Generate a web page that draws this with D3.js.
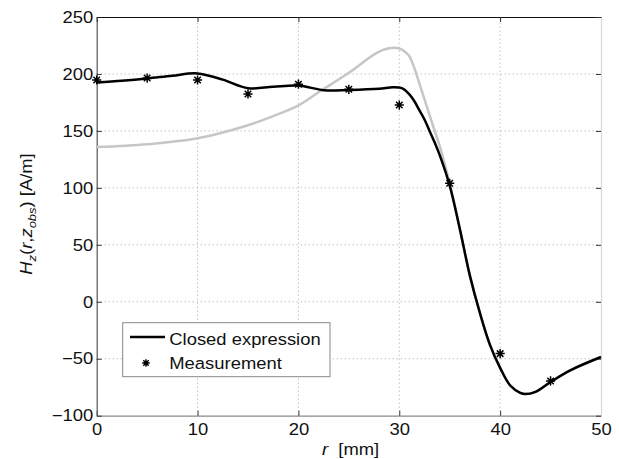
<!DOCTYPE html>
<html>
<head>
<meta charset="utf-8">
<script src="https://cdn.jsdelivr.net/npm/d3@7"></script>
<style>
  body { margin: 0; background: #fff; }
  svg { display: block; font-family: "Liberation Sans", Arial, Helvetica, sans-serif; }
  .grid line { stroke: #a8a8a8; stroke-dasharray: 1 3; stroke-width: 1; }
</style>
</head>
<body>
<svg id="chart" width="619" height="459"></svg>
<script>
// closed expression (black)
const rClosed = [0, 2.5, 5, 7.5, 10, 12.5, 15, 17.5, 20, 22.5, 25, 28, 29.4, 30.3, 31, 31.5, 32, 32.5, 33, 33.5, 34, 35, 36, 37, 38, 39, 40, 41, 42, 42.5, 43.5, 45, 47, 50];
const hClosed = [192.5, 194, 196, 198.5, 200.5, 195, 187.5, 188.8, 189.8, 185.8, 186, 187, 188.3, 187.3, 182, 176, 168, 160, 150, 140, 129, 102, 64, 23, -10, -38, -58, -73.5, -80, -81, -79, -70.4, -60, -48.5];

// gray reference curve
const rGray = [0, 5, 10, 15, 17.5, 20, 22, 25, 27.4, 28.5, 29.5, 30, 30.5, 31, 31.5, 32, 33.4, 34, 34.5, 35, 36, 37, 38, 39, 40, 41, 42, 42.5, 43.5, 45, 47, 50];
const hGray = [135.8, 138.3, 143.5, 155, 163, 172.5, 184, 201, 216.5, 221.5, 223, 222.3, 220, 215.5, 205, 191.5, 153, 137, 121, 104, 64, 23, -10, -38, -58, -73.5, -80, -81, -79, -70.4, -60, -48.5];

// measurement (asterisks)
const rMeas = [0, 5, 10, 15, 20, 25, 30, 35, 40, 45];
const hMeas = [194.7, 196.4, 194.7, 182.4, 191, 186.5, 172.7, 104, -45.5, -69.5];

const xTicks = [0, 10, 20, 30, 40, 50];
const yTicks = [-100, -50, 0, 50, 100, 150, 200, 250];

const W = 619, H = 459;
const margin = { left: 96.7, top: 17, right: 18, bottom: 43.3 };
const FONT = 16.3;
const WIDEN = 1.13;

const svg = d3.select("#chart");

const x = d3.scaleLinear().domain([0, 50]).range([margin.left, W - margin.right]);
const y = d3.scaleLinear().domain([-100, 250]).range([H - margin.bottom, margin.top]);

// dotted grid
const grid = svg.append("g").attr("class", "grid");
grid.selectAll("line.gx")
  .data(xTicks.slice(1, -1))
  .join("line")
  .attr("x1", (d) => x(d)).attr("x2", (d) => x(d))
  .attr("y1", y(-100)).attr("y2", y(250));
grid.selectAll("line.gy")
  .data(yTicks.slice(1, -1))
  .join("line")
  .attr("y1", (d) => y(d)).attr("y2", (d) => y(d))
  .attr("x1", x(0)).attr("x2", x(50));

// axes, ticks pointing inward
const xAxis = svg.append("g")
  .attr("transform", `translate(0,${y(-100)})`)
  .call(d3.axisBottom(x).tickValues(xTicks).tickSizeInner(-5).tickSizeOuter(0).tickPadding(7.5));
const yAxis = svg.append("g")
  .attr("transform", `translate(${x(0)},0)`)
  .call(d3.axisLeft(y).tickValues(yTicks).tickSizeInner(-5).tickSizeOuter(0).tickPadding(3.5)
    .tickFormat((d) => (d < 0 ? "\u2212" + Math.abs(d) : d)));
const topAxis = svg.append("g")
  .attr("transform", `translate(0,${y(250)})`)
  .call(d3.axisTop(x).tickValues(xTicks).tickSizeInner(-5).tickSizeOuter(0).tickFormat(""));
const rightAxis = svg.append("g")
  .attr("transform", `translate(${x(50)},0)`)
  .call(d3.axisRight(y).tickValues(yTicks).tickSizeInner(-5).tickSizeOuter(0).tickFormat(""));

for (const [axis, colour] of [[xAxis, "#8a8a8a"], [yAxis, "#555"], [topAxis, "#111"], [rightAxis, "#d8d8d8"]]) {
  axis.select(".domain").attr("stroke", colour).attr("stroke-width", 1.2);
  axis.selectAll(".tick line").attr("stroke", "#333");
  axis.selectAll("text").attr("fill", "#111").style("font-size", FONT + "px").style("font-family", null);
}

// curves
const line = (xs, ys) =>
  d3.line().x((d) => x(xs[d])).y((d) => y(ys[d])).curve(d3.curveCatmullRom.alpha(0.5))(d3.range(xs.length));

svg.append("path")
  .attr("d", line(rGray, hGray))
  .attr("fill", "none")
  .attr("stroke", "#c6c6c6")
  .attr("stroke-width", 2.5);

svg.append("path")
  .attr("d", line(rClosed, hClosed))
  .attr("fill", "none")
  .attr("stroke", "#000")
  .attr("stroke-width", 2.5);

function starPath(r) {
  const d = r * Math.SQRT1_2;
  return `M${-r},0H${r}M0,${-r}V${r}M${-d},${-d}L${d},${d}M${-d},${d}L${d},${-d}`;
}

svg.append("g")
  .selectAll("path")
  .data(d3.range(rMeas.length))
  .join("path")
  .attr("transform", (i) => `translate(${x(rMeas[i])},${y(hMeas[i])})`)
  .attr("d", starPath(4.6))
  .attr("stroke", "#000")
  .attr("stroke-width", 1.5)
  .attr("fill", "none");

// legend
const legend = svg.append("g");
legend.append("rect")
  .attr("x", 122.7).attr("y", 322.7)
  .attr("width", 207.3).attr("height", 54)
  .attr("fill", "#fff")
  .attr("stroke", "#888")
  .attr("stroke-width", 1);
legend.append("line")
  .attr("x1", 130).attr("x2", 165)
  .attr("y1", 337).attr("y2", 337)
  .attr("stroke", "#000").attr("stroke-width", 2.5);
legend.append("path")
  .attr("transform", "translate(146,363)")
  .attr("d", starPath(3.8))
  .attr("stroke", "#000").attr("stroke-width", 1.4);
legend.append("text")
  .attr("x", 169.3).attr("y", 345)
  .style("font-size", FONT + "px")
  .attr("fill", "#111")
  .text("Closed expression");
legend.append("text")
  .attr("x", 169.3).attr("y", 369)
  .style("font-size", FONT + "px")
  .attr("fill", "#111")
  .text("Measurement");

// x label
const xLabel = svg.append("text")
  .attr("x", 322).attr("y", 455)
  .style("font-size", FONT + "px")
  .attr("fill", "#111");
xLabel.append("tspan").style("font-style", "italic").text("r");
xLabel.append("tspan").text("\u00a0\u00a0[mm]");

// y label
const yLabel = svg.append("text")
  .attr("transform", "translate(32.3,214) rotate(-90)")
  .attr("text-anchor", "middle")
  .style("font-size", FONT + "px")
  .attr("fill", "#111");
yLabel.append("tspan").style("font-style", "italic").text("H");
yLabel.append("tspan").style("font-style", "italic").style("font-size", "11.5px").attr("dy", 4).text("z");
yLabel.append("tspan").attr("dy", -4).text("(");
yLabel.append("tspan").style("font-style", "italic").text("r");
yLabel.append("tspan").text(",");
yLabel.append("tspan").style("font-style", "italic").text("z");
yLabel.append("tspan").style("font-style", "italic").style("font-size", "11.5px").attr("dy", 4).text("obs");
yLabel.append("tspan").attr("dy", -4).text(")\u00a0[A/m]");

// the reference font runs wider than Liberation Sans
svg.selectAll("text").each(function () {
  const w = this.getComputedTextLength();
  if (w > 0) {
    this.setAttribute("textLength", (w * WIDEN).toFixed(1));
    this.setAttribute("lengthAdjust", "spacingAndGlyphs");
  }
});
</script>
</body>
</html>
